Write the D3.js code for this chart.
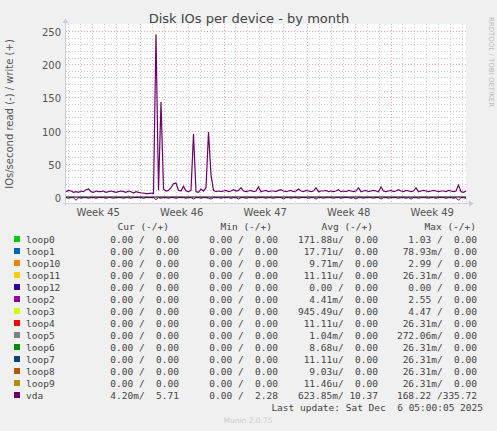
<!DOCTYPE html>
<html><head><meta charset="utf-8">
<script src="https://cdn.jsdelivr.net/npm/d3@7/dist/d3.min.js"></script>
<style>body{margin:0;background:#f0f0f0}svg{display:block}</style></head>
<body><svg id="c" width="497" height="431"></svg>
<script>
const weekLabels=["Week 45","Week 46","Week 47","Week 48","Week 49"];
const yTicks=[0,50,100,150,200,250];
const writeVals=[8,10,9,7,8,7,9,8,11,12,8,7,9,8,8,9,7,8,9,8,7,8,9,8,7,9,8,6,8,7,6,6,5,5,6,5,
245,10,143,12,9,10,14,20,21,10,9,16,9,8,10,95,8,7,12,9,14,98,33,10,8,
9,8,9,10,8,9,11,9,10,14,9,8,9,10,8,9,15,8,9,10,8,9,9,8,10,11,9,8,9,10,
8,9,12,9,8,10,9,8,9,14,8,9,9,10,8,9,8,9,11,8,9,8,10,9,8,9,14,8,9,10,
8,9,10,9,8,15,9,8,9,10,8,9,11,9,8,10,9,8,9,14,8,9,10,9,8,9,10,9,8,9,
9,8,10,9,8,9,18,8,7,9];
const readVals=[-1,-2,-1,-1,-5,-1,-2,-1,-1,-2,-1,-1,-2,-1,-1,-1,-2,-1,-1,-2,-1,-1,-1,-2,-1,-1,-2,-1,-1,-1,-1,-2,-1,-1,-1,-1,
-4,-1,-2,-1,-1,-2,-1,-1,-2,-1,-1,-1,-2,-1,-1,-3,-1,-1,-2,-1,-1,-2,-3,-1,-1,
-1,-2,-1,-1,-1,-2,-1,-1,-3,-1,-1,-2,-1,-1,-1,-2,-1,-1,-1,-2,-1,-1,-2,-1,-1,-1,-3,-1,-1,-2,
-1,-1,-2,-1,-1,-1,-2,-1,-1,-3,-1,-1,-2,-1,-1,-1,-2,-1,-1,-2,-1,-1,-1,-2,-1,-3,-1,-1,-2,-1,
-1,-1,-2,-1,-1,-3,-1,-1,-2,-1,-1,-1,-2,-1,-1,-2,-1,-3,-1,-1,-2,-1,-1,-1,-2,-1,-1,-2,-1,-1,
-1,-2,-1,-1,-2,-1,-5,-1,-1,-2];
const legendNames=["loop0","loop1","loop10","loop11","loop12","loop2","loop3","loop4","loop5","loop6","loop7","loop8","loop9","vda"];
const legendColors=["#00cc00","#0066b3","#ff8000","#ffcc00","#330099","#990099","#ccff00","#ff0000","#808080","#008f00","#00487d","#b35a00","#b38f00","#6b006b"];
const curCol=["0.00 /  0.00","0.00 /  0.00","0.00 /  0.00","0.00 /  0.00","0.00 /  0.00","0.00 /  0.00","0.00 /  0.00","0.00 /  0.00","0.00 /  0.00","0.00 /  0.00","0.00 /  0.00","0.00 /  0.00","0.00 /  0.00","4.20m/  5.71"];
const minCol=["0.00 /  0.00","0.00 /  0.00","0.00 /  0.00","0.00 /  0.00","0.00 /  0.00","0.00 /  0.00","0.00 /  0.00","0.00 /  0.00","0.00 /  0.00","0.00 /  0.00","0.00 /  0.00","0.00 /  0.00","0.00 /  0.00","0.00 /  2.28"];
const avgCol=["171.88u/  0.00","17.71u/  0.00","9.71m/  0.00","11.11u/  0.00","0.00 /  0.00","4.41m/  0.00","945.49u/  0.00","11.11u/  0.00","1.04m/  0.00","8.68u/  0.00","11.11u/  0.00","9.03u/  0.00","11.46u/  0.00","623.85m/ 10.37"];
const maxCol=["1.03 /  0.00","78.93m/  0.00","2.99 /  0.00","26.31m/  0.00","0.00 /  0.00","2.55 /  0.00","4.47 /  0.00","26.31m/  0.00","272.06m/  0.00","26.31m/  0.00","26.31m/  0.00","26.31m/  0.00","26.31m/  0.00","168.22 /335.72"];

const svg=d3.select("#c");
const L=66,R=466,T=24,B=203;
const x=d3.scaleLinear().domain([0,writeVals.length-1]).range([L,R]);
const y=d3.scaleLinear().domain([0,250]).range([197,31]);
const xw=d3.scaleLinear().domain([0,5]).range([56.5,474]); // week boundaries
svg.append("rect").attr("x",L).attr("y",T).attr("width",R-L).attr("height",B-T).attr("fill","#fff");
// minor grids
const g=svg.append("g");
for(let v=-10;v<=250;v+=10){ if(v%50===0) continue; const yy=Math.round(y(v))+.5; if(yy<T||yy>B) continue;
 g.append("line").attr("x1",L).attr("x2",R).attr("y1",yy).attr("y2",yy).attr("stroke","#ccc").attr("stroke-dasharray","1,2");}
for(let d=0;d<=35;d++){const xx=Math.round(xw(0)+d*(xw(1)-xw(0))/7)+.5; if(xx<=L||xx>=R) continue;
 g.append("line").attr("x1",xx).attr("x2",xx).attr("y1",T).attr("y2",B).attr("stroke","#ccc").attr("stroke-dasharray","1,2");}
yTicks.forEach(v=>{const yy=Math.round(y(v))+.5;
 g.append("line").attr("x1",L).attr("x2",R).attr("y1",yy).attr("y2",yy).attr("stroke","#e8a0a0").attr("stroke-dasharray","1,2");
 svg.append("text").attr("x",L-5).attr("y",yy+4).attr("text-anchor","end").attr("font-family","DejaVu Sans").attr("font-size",10).attr("fill","#555").text(v);});
for(let w=1;w<5;w++){const xx=Math.round(xw(w))+.5;
 g.append("line").attr("x1",xx).attr("x2",xx).attr("y1",T).attr("y2",B).attr("stroke","#e8a0a0").attr("stroke-dasharray","1,2");}
weekLabels.forEach((t,i)=>svg.append("text").attr("x",(xw(i)+xw(i+1))/2+(i==0?0:0)).attr("y",216).attr("text-anchor","middle").attr("font-family","DejaVu Sans").attr("font-size",10).attr("fill","#555").text(t));
// series
const area=d3.area().x((d,i)=>x(i)).y0(y(0)).y1(d=>y(d));
svg.append("path").datum(writeVals).attr("d",d3.line().x((d,i)=>x(i)).y(d=>y(d))).attr("fill","none").attr("stroke","#6b006b").attr("stroke-width",1.2);
svg.append("path").datum(readVals).attr("d",d3.line().x((d,i)=>x(i)).y(d=>y(d))).attr("fill","none").attr("stroke","#6b006b").attr("stroke-width",1);
svg.append("line").attr("x1",L).attr("x2",R).attr("y1",y(0)).attr("y2",y(0)).attr("stroke","#000").attr("stroke-width",1);
// axes
svg.append("line").attr("x1",L-0.5).attr("x2",L-0.5).attr("y1",B+3).attr("y2",T-3).attr("stroke","#ccd").attr("stroke-width",1);
svg.append("path").attr("d",`M${L-3.5},${T-1} L${L-0.5},${T-6} L${L+2.5},${T-1}Z`).attr("fill","#ccd");
svg.append("line").attr("x1",L-3).attr("x2",R+4).attr("y1",B+.5).attr("y2",B+.5).attr("stroke","#ccd");
svg.append("path").attr("d",`M${R+3},${B-2.5} L${R+8},${B+.5} L${R+3},${B+3.5}Z`).attr("fill","#ccd");
// titles
svg.append("text").attr("x",249).attr("y",23).attr("text-anchor","middle").attr("font-family","DejaVu Sans").attr("font-size",13).attr("fill","#444").text("Disk IOs per device - by month");
svg.append("text").attr("transform","translate(13,114) rotate(-90)").attr("text-anchor","middle").attr("font-family","DejaVu Sans").attr("font-size",10).attr("fill","#555").text("IOs/second read (-) / write (+)");
svg.append("text").attr("transform","translate(489,62) rotate(90)").attr("text-anchor","middle").attr("font-family","DejaVu Sans").attr("font-size",7).attr("fill","#bbb").text("RRDTOOL / TOBI OETIKER");
// legend
const mono={"font-family":"DejaVu Sans Mono","font-size":"9.5px","fill":"#444"};
function t(xx,yy,s,anchor){const e=svg.append("text").attr("x",xx).attr("y",yy).attr("text-anchor",anchor||"start").attr("xml:space","preserve").style("white-space","pre").text(s);for(const k in mono)e.attr(k,mono[k]);return e;}
t(169,230,"Cur (-/+)","end");t(272,230,"Min (-/+)","end");t(373,230,"Avg (-/+)","end");t(476,230,"Max (-/+)","end");
legendNames.forEach((n,i)=>{const yy=243+i*12;
 svg.append("rect").attr("x",14).attr("y",yy-7).attr("width",6).attr("height",6).attr("fill",legendColors[i]);
 t(26,yy,n);t(179,yy,curCol[i],"end");t(278,yy,minCol[i],"end");t(378,yy,avgCol[i],"end");t(477,yy,maxCol[i],"end");});
t(483,411,"Last update: Sat Dec  6 05:00:05 2025","end");
svg.append("text").attr("x",248).attr("y",423).attr("text-anchor","middle").attr("font-family","DejaVu Sans").attr("font-size",7.5).attr("fill","#ccc").text("Munin 2.0.75");
</script></body></html>
